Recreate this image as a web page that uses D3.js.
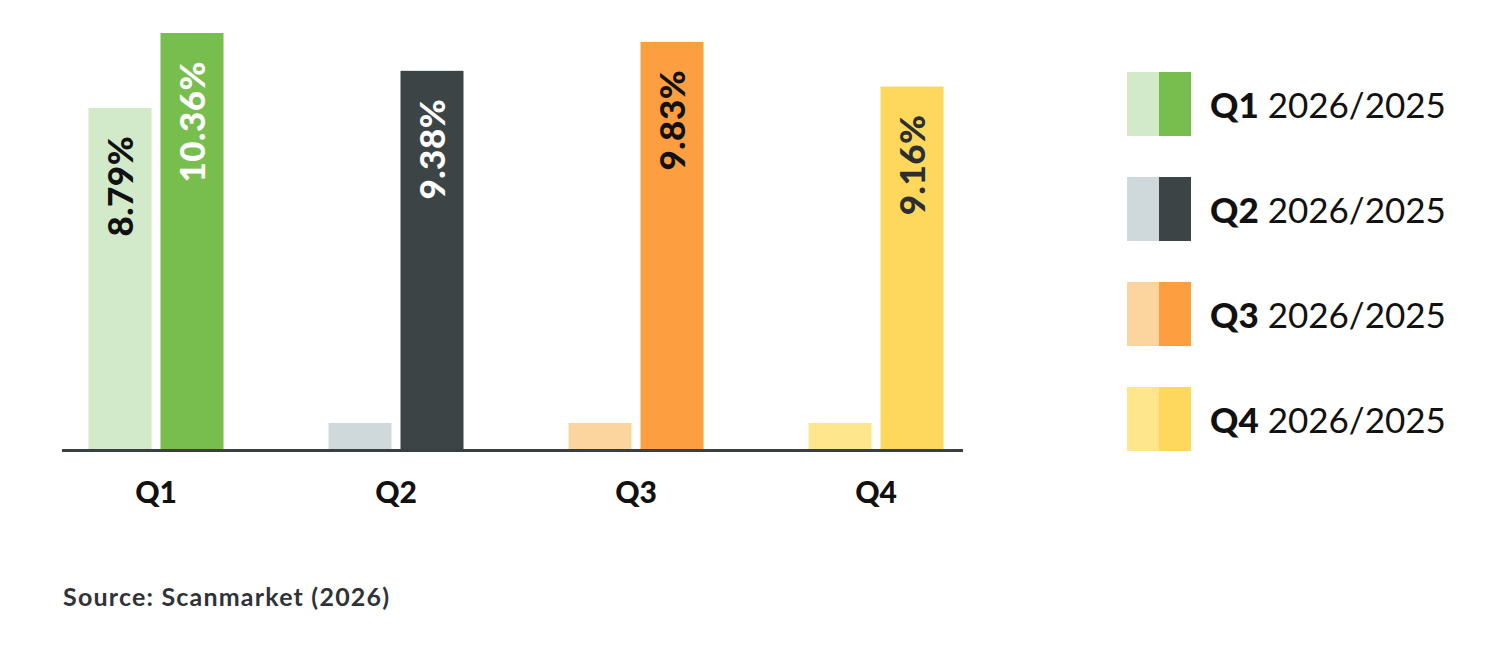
<!DOCTYPE html>
<html>
<head>
<meta charset="utf-8">
<script src="https://cdn.jsdelivr.net/npm/d3@7/dist/d3.min.js"></script>
<style>
  body { margin: 0; background: #fff; }
  svg { display: block; font-family: "Lato", "Open Sans", sans-serif; }
</style>
</head>
<body>
<div id="chart"></div>
<script>
// data (bar heights), labels as printed on the bars
var quarters = ["Q1", "Q2", "Q3", "Q4"];
var prevValues = [8.50, 0.67, 0.67, 0.67];
var currValues = [10.36, 9.42, 10.14, 9.03];
var prevLabels = ["8.79%", "", "", ""];
var currLabels = ["10.36%", "9.38%", "9.83%", "9.16%"];
var lightColors = ["#d3eaca", "#cfd9dc", "#fcd59e", "#fde68c"];
var darkColors = ["#78be4f", "#3d4446", "#fd9f41", "#fdd85c"];
var prevLabelColors = ["#111", "#111", "#111", "#111"];
var currLabelColors = ["#fff", "#fff", "#111", "#2b2f33"];
var legendPeriod = "2026/2025";
var sourceText = "Source: Scanmarket (2026)";

var width = 1498, height = 647;
var base = 450;

var svg = d3.select("#chart").append("svg")
  .attr("width", width)
  .attr("height", height);

svg.append("rect").attr("width", width).attr("height", height).attr("fill", "#fff");

var x0 = d3.scaleBand()
  .domain(quarters)
  .range([36, 996])
  .paddingInner(0.4375)
  .paddingOuter(0.21875);

var x1 = d3.scaleBand()
  .domain(["prev", "curr"])
  .range([0, x0.bandwidth()])
  .paddingInner(0.125);

var y = d3.scaleLinear()
  .domain([0, 11])
  .range([base, base - 11 * 40.25]);

// one row per bar
var bars = [];
quarters.forEach(function(q, i){
  bars.push({q: q, key: "prev", value: prevValues[i], label: prevLabels[i], fill: lightColors[i], text: prevLabelColors[i]});
  bars.push({q: q, key: "curr", value: currValues[i], label: currLabels[i], fill: darkColors[i], text: currLabelColors[i]});
});

svg.append("g").selectAll("rect")
  .data(bars)
  .enter().append("rect")
  .attr("x", function(d){ return x0(d.q) + x1(d.key); })
  .attr("y", function(d){ return y(d.value); })
  .attr("width", x1.bandwidth())
  .attr("height", function(d){ return y(0) - y(d.value); })
  .attr("fill", function(d){ return d.fill; });

// rotated value labels
svg.append("g").selectAll("text")
  .data(bars.filter(function(d){ return d.label !== ""; }))
  .enter().append("text")
  .attr("transform", function(d){
    var cx = x0(d.q) + x1(d.key) + x1.bandwidth() / 2 + 13;
    return "translate(" + cx + "," + (y(d.value) + 28) + ") rotate(-90)";
  })
  .attr("text-anchor", "end")
  .attr("font-size", 35)
  .attr("font-weight", 900)
  .attr("letter-spacing", 0.5)
  .attr("fill", function(d){ return d.text; })
  .text(function(d){ return d.label; });

// baseline
svg.append("line")
  .attr("x1", 62).attr("x2", 963)
  .attr("y1", y(0) + 0.5).attr("y2", y(0) + 0.5)
  .attr("stroke", "#3a3f42")
  .attr("stroke-width", 3);

// x axis labels
var xAxis = svg.append("g")
  .attr("transform", "translate(0," + base + ")")
  .call(d3.axisBottom(x0).tickSize(0));
xAxis.select(".domain").remove();
xAxis.selectAll("text")
  .attr("y", 53)
  .attr("dy", 0)
  .attr("font-family", "Lato, sans-serif")
  .attr("font-size", 30)
  .attr("font-weight", 900)
  .attr("fill", "#111");

// legend
var legend = svg.append("g").selectAll("g")
  .data(quarters)
  .enter().append("g")
  .attr("transform", function(d, i){ return "translate(1127," + (72 + i * 105) + ")"; });

legend.append("rect")
  .attr("width", 32).attr("height", 64)
  .attr("fill", function(d, i){ return lightColors[i]; });
legend.append("rect")
  .attr("x", 32)
  .attr("width", 32).attr("height", 64)
  .attr("fill", function(d, i){ return darkColors[i]; });

var lt = legend.append("text")
  .attr("x", 83)
  .attr("y", 46)
  .attr("font-size", 35)
  .attr("fill", "#111");
lt.append("tspan").attr("font-weight", 900).text(function(d){ return d; });
lt.append("tspan").attr("font-weight", 400).text(" " + legendPeriod);

// source note
svg.append("text")
  .attr("x", 63)
  .attr("y", 606)
  .attr("font-size", 25)
  .attr("font-weight", 700)
  .attr("letter-spacing", 1.2)
  .attr("fill", "#2f3337")
  .text(sourceText);
</script>
</body>
</html>
